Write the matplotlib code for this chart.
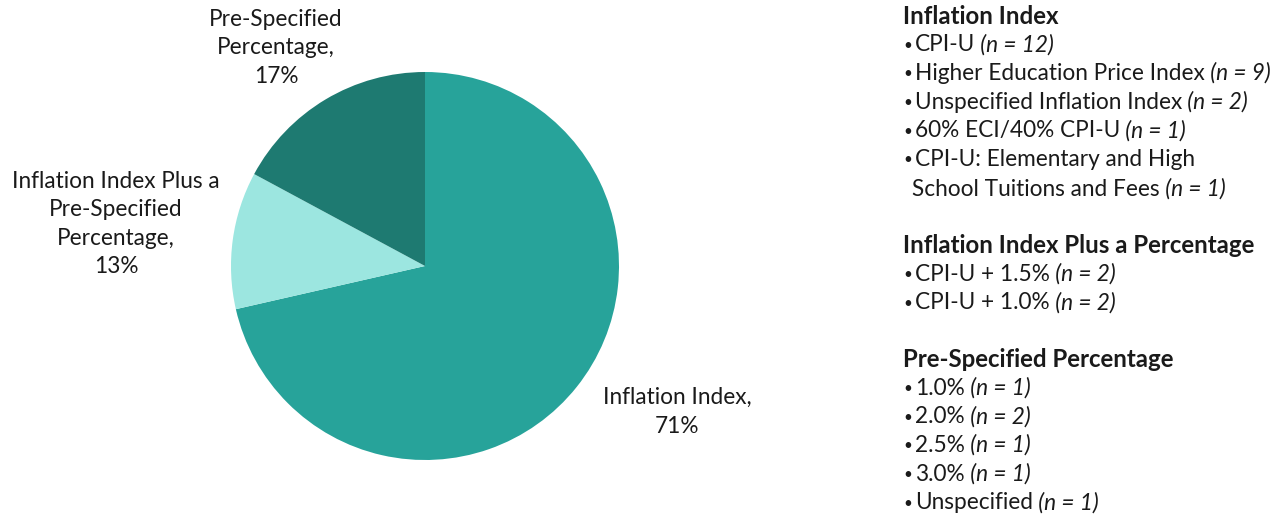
import matplotlib.pyplot as plt

# Pie data (counts taken from the n values on the right)
categories = ["Inflation Index", "Inflation Index Plus a\nPre-Specified\nPercentage", "Pre-Specified\nPercentage"]
counts = [25, 4, 6]
pct_labels = ["71%", "13%", "17%"]
colors = ["#27A39A", "#9CE6E0", "#1E7A71"]

# Right-hand breakdown
groups = ["Inflation Index", "Inflation Index Plus a Percentage", "Pre-Specified Percentage"]
items = [
    [("CPI-U", "(n = 12)"),
     ("Higher Education Price Index", "(n = 9)"),
     ("Unspecified Inflation Index", "(n = 2)"),
     ("60% ECI/40% CPI-U", "(n = 1)"),
     ("CPI-U: Elementary and High\nSchool Tuitions and Fees", "(n = 1)")],
    [("CPI-U + 1.5%", "(n = 2)"),
     ("CPI-U + 1.0%", "(n = 2)")],
    [("1.0%", "(n = 1)"),
     ("2.0%", "(n = 2)"),
     ("2.5%", "(n = 1)"),
     ("3.0%", "(n = 1)"),
     ("Unspecified", "(n = 1)")],
]

W, H = 1287, 519
plt.rcParams["font.family"] = ["Lato", "DejaVu Sans"]
FS = 16.3
HFS = 17.3
TXT = "#1a1a1a"

fig = plt.figure(figsize=(W / 100, H / 100), dpi=100)


def fx(px):
    return px / W


def fy(py):
    return 1 - py / H


# pie axes: center (425, 266), radius 194 px
cx, cy, r = 425, 266, 194
ax = fig.add_axes([fx(cx - r), fy(cy + r), 2 * r / W, 2 * r / H])
ax.pie(counts, colors=colors, startangle=90, counterclock=False,
       wedgeprops=dict(linewidth=0))
ax.set_xlim(-1, 1)
ax.set_ylim(-1, 1)
ax.set_aspect("equal")

# slice labels
label_pos = [(677, 412), (116, 224), (276, 48)]
for name, pct, (px, py) in zip(categories, pct_labels, label_pos):
    fig.text(fx(px), fy(py), name + ",\n" + pct, ha="center", va="center",
             fontsize=FS, color=TXT, linespacing=1.45)

# right-hand list
x0 = 903
line_h = 28.7
y = 16
for g, group in enumerate(groups):
    fig.text(fx(x0), fy(y), group, fontsize=HFS, fontweight="bold",
             color=TXT, va="center", ha="left")
    y += line_h
    for main, n in items[g]:
        fig.text(fx(x0), fy(y + 1), "\u2022", fontsize=11, color=TXT,
                 va="center", ha="left")
        lines = main.split("\n")
        t = fig.text(fx(x0 + 12), fy(y), lines[0], fontsize=FS,
                     color=TXT, va="center", ha="left")
        if len(lines) > 1:
            y += line_h + 1
            t = fig.text(fx(x0 + 9), fy(y), lines[1], fontsize=FS,
                         color=TXT, va="center", ha="left")
        fig.add_artist(plt.Annotation(
            " " + n, xy=(1, 0), xycoords=t, fontsize=FS, color=TXT,
            style="italic", ha="left", va="bottom"))
        y += line_h
    y += line_h - 1

fig.savefig("out.png", dpi=100, facecolor="white")
